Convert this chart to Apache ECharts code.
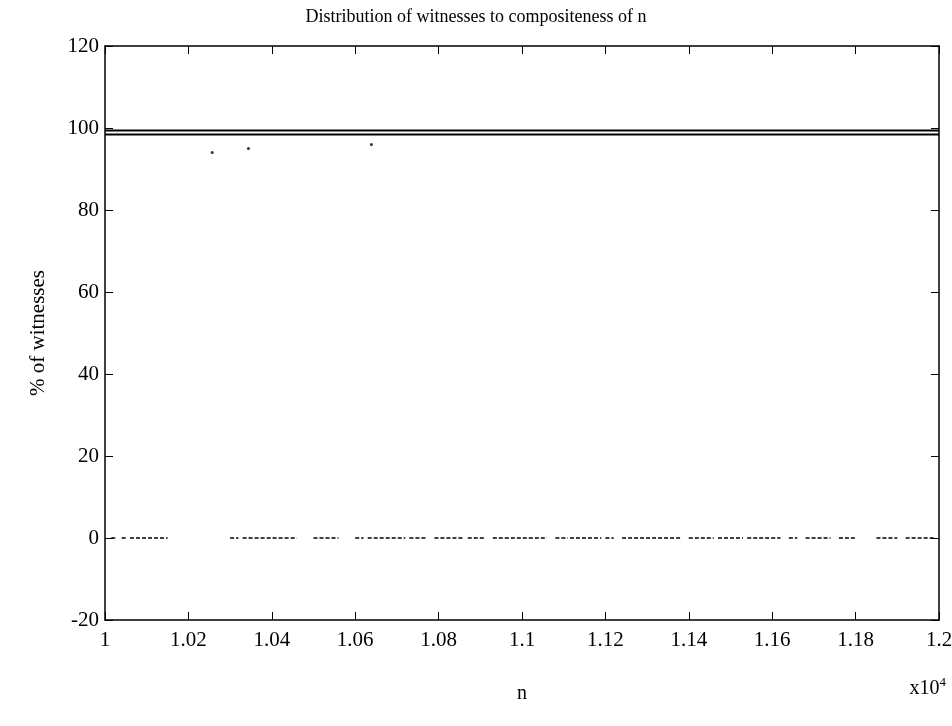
<!DOCTYPE html>
<html>
<head>
<meta charset="utf-8">
<script src="https://cdn.jsdelivr.net/npm/echarts@6/dist/echarts.min.js"></script>
<style>html,body{margin:0;padding:0;background:#fff}#c{width:952px;height:726px}</style>
</head>
<body>
<div id="c"></div>
<script>
// x values are n (the axis shows n / 10^4)
var xTickLabels = ["1", "1.02", "1.04", "1.06", "1.08", "1.1", "1.12", "1.14", "1.16", "1.18", "1.2"];
var yTickLabels = ["-20", "0", "20", "40", "60", "80", "100", "120"];
// nearly every composite n: two dense bands just under 100 %
var upperBandX = [10000, 12000];
var upperBandY = [99.4, 99.4];
var lowerBandX = [10000, 12000];
var lowerBandY = [98.4, 98.4];
// isolated composites with fewer witnesses
var outlierN = [10257, 10344, 10639];
var outlierPct = [94, 95, 96];
// primes: 0 % witnesses, visible as dashed runs along y = 0 (start, end of each run)
var zeroRunStart = [10015, 10040, 10060, 10300, 10330, 10500, 10600, 10630, 10730, 10790, 10870, 10930, 11080, 11115, 11200, 11240, 11400, 11470, 11540, 11640, 11680, 11760, 11850, 11920];
var zeroRunEnd   = [10025, 10050, 10150, 10320, 10460, 10560, 10620, 10720, 10770, 10860, 10910, 11060, 11110, 11190, 11220, 11380, 11460, 11530, 11620, 11660, 11740, 11800, 11900, 11990];

var zeroRow = [];
for (var i = 0; i < zeroRunStart.length; i++) {
  zeroRow.push([zeroRunStart[i], 0]);
  zeroRow.push([zeroRunEnd[i], 0]);
  zeroRow.push([zeroRunEnd[i], '-']);
}
function pairs(xs, ys) { return xs.map(function (x, i) { return [x, ys[i]]; }); }

var FONT = "Liberation Serif";
var chart = echarts.init(document.getElementById('c'), null, {renderer: 'canvas'});
var axisCommon = {
  axisLine: {show: true, onZero: false, lineStyle: {color: '#000', width: 1.5}},
  axisTick: {show: true, inside: true, length: 8, lineStyle: {color: '#000', width: 1}},
  splitLine: {show: false}
};
chart.setOption({
  animation: false,
  backgroundColor: '#fff',
  title: {
    text: 'Distribution of witnesses to compositeness of n',
    left: 'center', top: 3,
    textStyle: {fontFamily: FONT, fontSize: 18, fontWeight: 'normal', color: '#000'}
  },
  grid: {left: 105, right: 13, top: 46, bottom: 106, containLabel: false, outerBoundsMode: 'none'},
  xAxis: [
    Object.assign({}, axisCommon, {
      type: 'value', min: 10000, max: 12000, interval: 200, position: 'bottom',
      axisLabel: {
        color: '#000', fontFamily: FONT, fontSize: 21, margin: 10,
        formatter: function (v) { return xTickLabels[Math.round((v - 10000) / 200)]; }
      },
      name: 'n', nameLocation: 'middle', nameGap: 64,
      nameTextStyle: {color: '#000', fontFamily: FONT, fontSize: 20}
    }),
    Object.assign({}, axisCommon, {
      type: 'value', min: 10000, max: 12000, interval: 200, position: 'top',
      axisLabel: {show: false}
    })
  ],
  yAxis: [
    Object.assign({}, axisCommon, {
      type: 'value', min: -20, max: 120, interval: 20, position: 'left',
      axisLabel: {
        color: '#000', fontFamily: FONT, fontSize: 21, margin: 6,
        formatter: function (v) { return yTickLabels[Math.round((v + 20) / 20)]; }
      },
      name: '% of witnesses', nameLocation: 'middle', nameGap: 56, nameRotate: 90,
      nameTextStyle: {color: '#000', fontFamily: FONT, fontSize: 21}
    }),
    Object.assign({}, axisCommon, {
      type: 'value', min: -20, max: 120, interval: 20, position: 'right',
      axisLabel: {show: false}
    })
  ],
  graphic: [{
    type: 'text', right: 6, top: 676,
    style: {
      text: '{a|x10}{b|4}',
      rich: {
        a: {fontFamily: FONT, fontSize: 20, fill: '#000', verticalAlign: 'bottom'},
        b: {fontFamily: FONT, fontSize: 13, fill: '#000', verticalAlign: 'top', padding: [0, 0, 10, 0]}
      }
    }
  }],
  series: [
    {type: 'line', data: pairs(upperBandX, upperBandY), showSymbol: false, silent: true,
     lineStyle: {color: '#000', width: 2}},
    {type: 'line', data: pairs(lowerBandX, lowerBandY), showSymbol: false, silent: true,
     lineStyle: {color: '#000', width: 2}},
    {type: 'scatter', data: pairs(outlierN, outlierPct), symbolSize: 3, silent: true,
     itemStyle: {color: '#000'}},
    {type: 'line', data: zeroRow, showSymbol: false, connectNulls: false, silent: true,
     lineStyle: {color: '#000', width: 1.5, type: [4, 2]}}
  ]
});
</script>
</body>
</html>
